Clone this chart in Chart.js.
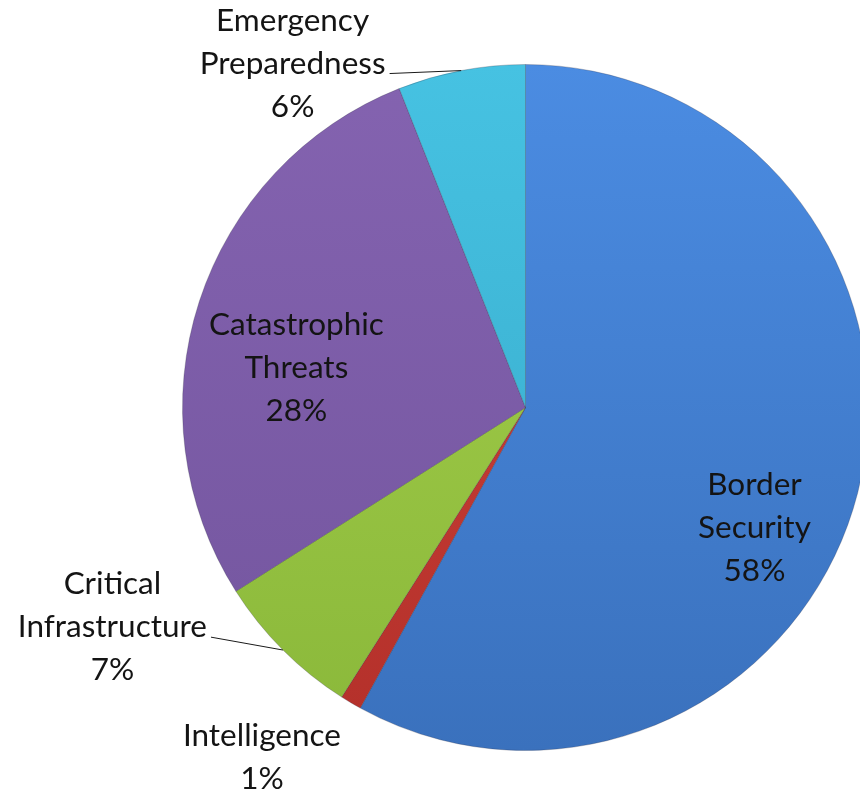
<!DOCTYPE html>
<html>
<head>
<meta charset="utf-8">
<script src="https://cdn.jsdelivr.net/npm/chart.js@4.4.0/dist/chart.umd.min.js"></script>
<style>
  html, body { margin: 0; padding: 0; background: #ffffff; overflow: hidden; }
  #wrap { width: 860px; height: 793px; position: relative; overflow: hidden; }
  #c { display: block; }
</style>
</head>
<body>
<div id="wrap"><canvas id="c" width="880" height="793"></canvas></div>
<script>
// ---- data ----
const categories = ['Border Security', 'Intelligence', 'Critical Infrastructure', 'Catastrophic Threats', 'Emergency Preparedness'];
const shares = [58, 1, 7, 28, 6];

// ---- style ----
const colorsTop    = ['#4b8ce2', '#d2443b', '#a6d04c', '#8463b0', '#46c2e2'];
const colorsBottom = ['#3a71bd', '#b3302a', '#8ab83a', '#73559e', '#36a8c8'];
// label placement relative to each slice: angle offset from the slice middle (deg), radius factor
const labelPlacement = [
  { angOff: 13.3, rf: 0.754, leader: false },
  { angOff: 6.4,  rf: 1.277, leader: false },
  { angOff: 17.0, rf: 1.364, leader: true },
  { angOff: -8.1, rf: 0.678, leader: false },
  { angOff: -23.3, rf: 1.211, leader: true }
];
const FONT = '31.5px Lato, "Open Sans", sans-serif';
const LINE_H = 43;

function bg(ctx) {
  const chart = ctx.chart;
  const a = chart.chartArea;
  const i = ctx.dataIndex;
  if (!a) return colorsTop[i];
  const g = chart.ctx.createLinearGradient(0, a.top, 0, a.bottom);
  g.addColorStop(0, colorsTop[i]);
  g.addColorStop(1, colorsBottom[i]);
  return g;
}

const labelPlugin = {
  id: 'sliceLabels',
  afterDatasetsDraw(chart) {
    const meta = chart.getDatasetMeta(0);
    const ctx = chart.ctx;
    const total = shares.reduce((s, v) => s + v, 0);
    ctx.save();
    ctx.font = FONT;
    ctx.fillStyle = '#141414';
    ctx.textAlign = 'center';
    ctx.textBaseline = 'middle';
    meta.data.forEach((arc, i) => {
      const p = arc.getProps(['x', 'y', 'startAngle', 'endAngle', 'outerRadius'], true);
      const mid = (p.startAngle + p.endAngle) / 2;
      const pl = labelPlacement[i];
      const ang = mid + pl.angOff * Math.PI / 180;
      const cx = p.x + Math.cos(ang) * p.outerRadius * pl.rf;
      const cy = p.y + Math.sin(ang) * p.outerRadius * pl.rf;
      const words = categories[i].split(' ');
      const lines = words.concat([Math.round(shares[i] / total * 100) + '%']);
      const n = lines.length;
      const y0 = cy - (n - 1) * LINE_H / 2;
      lines.forEach((t, k) => ctx.fillText(t, cx, y0 + k * LINE_H));
      if (pl.leader) {
        const midLine = lines[Math.floor((n - 1) / 2)];
        const w = ctx.measureText(midLine).width;
        const ly = y0 + Math.floor((n - 1) / 2) * LINE_H;
        const sx = cx + w / 2 + 4;
        const sy = ly + 10;
        const ex = p.x + Math.cos(mid) * p.outerRadius;
        const ey = p.y + Math.sin(mid) * p.outerRadius;
        ctx.beginPath();
        ctx.strokeStyle = '#1a1a1a';
        ctx.lineWidth = 1;
        ctx.moveTo(sx, sy);
        ctx.lineTo(ex, ey);
        ctx.stroke();
      }
    });
    ctx.restore();
  }
};

new Chart(document.getElementById('c'), {
  type: 'pie',
  data: {
    labels: categories,
    datasets: [{
      data: shares,
      backgroundColor: bg,
      borderColor: 'rgba(40,40,60,0.25)',
      borderWidth: 1,
      hoverOffset: 0,
      hoverBorderWidth: 1
    }]
  },
  options: {
    responsive: false,
    animation: false,
    layout: { padding: { top: 64, bottom: 42, left: 182, right: 11 } },
    plugins: {
      legend: { display: false },
      tooltip: { enabled: false }
    }
  },
  plugins: [labelPlugin]
});
</script>
</body>
</html>
